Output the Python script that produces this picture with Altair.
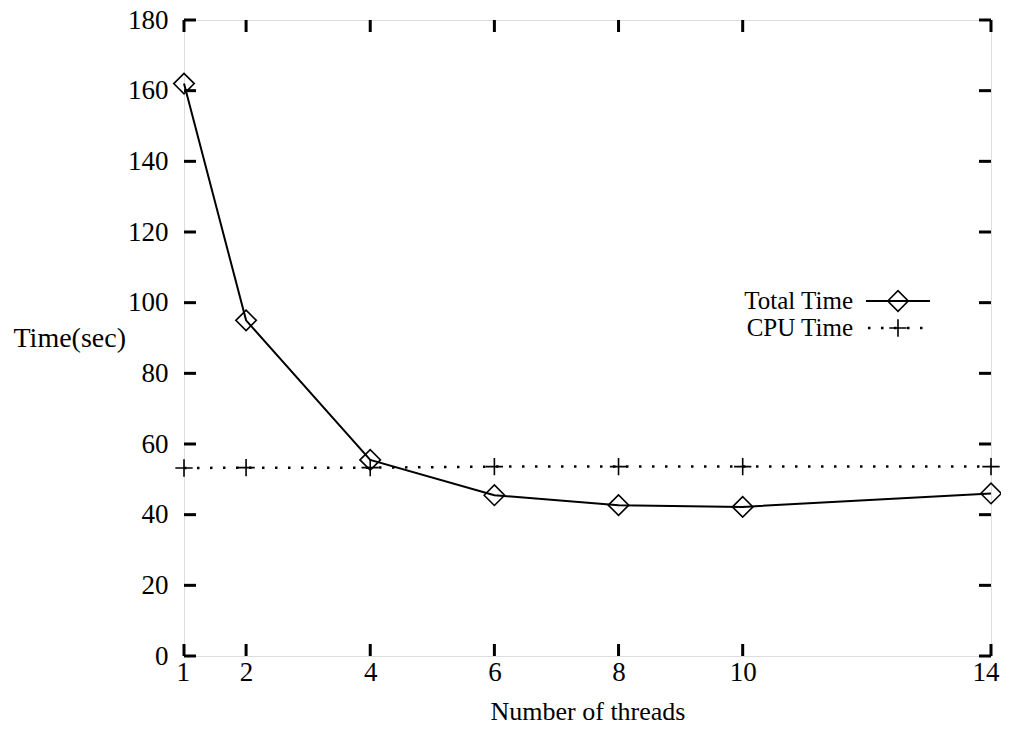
import altair as alt
import pandas as pd

threads = [1, 2, 4, 6, 8, 10, 14]
total_time = [162, 95, 55.5, 45.5, 42.7, 42.2, 46]
cpu_time = [53.2, 53.3, 53.3, 53.6, 53.6, 53.6, 53.6]
y_ticks = [0, 20, 40, 60, 80, 100, 120, 140, 160, 180]
x_ticks = threads

W, H = 807, 636
FONT = "Liberation Serif"
TICK = 12

df = pd.DataFrame({"threads": threads, "total": total_time, "cpu": cpu_time})
ydf = pd.DataFrame({"v": y_ticks})
xdf = pd.DataFrame({"v": x_ticks})

xs = alt.Scale(domain=[1, 14], nice=False, zero=False)
ys = alt.Scale(domain=[0, 180], nice=False)

xaxis = alt.Axis(values=x_ticks, format="d", ticks=False, domain=False, grid=False,
                 labelFlush=True, labelFlushOffset=8,
                 labelFont=FONT, labelFontSize=27, labelColor="black", labelPadding=3,
                 title="Number of threads", titleFont=FONT, titleFontSize=26,
                 titleFontWeight="normal", titleColor="black", titlePadding=13)
yaxis = alt.Axis(values=y_ticks, format="d", ticks=False, domain=False, grid=False,
                 labelFlush=False, labelBound=False,
                 labelFont=FONT, labelFontSize=27, labelColor="black", labelPadding=16,
                 title="Time(sec)", titleFont=FONT, titleFontSize=28,
                 titleFontWeight="normal", titleColor="black", titleAngle=0,
                 titleAlign="left", titleBaseline="middle", titleX=-171, titleY=318)

base = alt.Chart(df)

total_line = base.mark_line(color="black", strokeWidth=2).encode(
    x=alt.X("threads:Q", scale=xs, axis=xaxis),
    y=alt.Y("total:Q", scale=ys, axis=yaxis),
)
total_pts = base.mark_point(shape="diamond", size=420, filled=False, color="black",
                            strokeWidth=1.6, opacity=1).encode(
    x=alt.X("threads:Q", scale=xs), y=alt.Y("total:Q", scale=ys))

cpu_line = base.mark_line(color="black", strokeWidth=2.5, strokeDash=[2.5, 10.5]).encode(
    x=alt.X("threads:Q", scale=xs), y=alt.Y("cpu:Q", scale=ys))
PLUS = "M-1,0H1M0,-1V1"
cpu_pts = base.mark_point(shape=PLUS, size=300, filled=False, color="black",
                          strokeWidth=1.6, opacity=1).encode(
    x=alt.X("threads:Q", scale=xs), y=alt.Y("cpu:Q", scale=ys))

# inward ticks on all four sides
left_ticks = alt.Chart(ydf).mark_rule(color="black", strokeWidth=3).encode(
    y=alt.Y("v:Q", scale=ys), x=alt.value(0), x2=alt.value(TICK))
right_ticks = alt.Chart(ydf).mark_rule(color="black", strokeWidth=3).encode(
    y=alt.Y("v:Q", scale=ys), x=alt.value(W - TICK), x2=alt.value(W))
bottom_ticks = alt.Chart(xdf).mark_rule(color="black", strokeWidth=3).encode(
    x=alt.X("v:Q", scale=xs), y=alt.value(H - TICK), y2=alt.value(H))
top_ticks = alt.Chart(xdf).mark_rule(color="black", strokeWidth=3).encode(
    x=alt.X("v:Q", scale=xs), y=alt.value(0), y2=alt.value(TICK))

# legend
one = alt.Data(values=[{"a": 1}])
LX_TEXT, LX0, LX1, LXM = 669, 682, 746, 714
LY1, LY2 = 281, 308
leg_t1 = alt.Chart(one).mark_text(font=FONT, fontSize=25, align="right",
                                  baseline="middle", color="black").encode(
    x=alt.value(LX_TEXT), y=alt.value(LY1), text=alt.value("Total Time"))
leg_t2 = alt.Chart(one).mark_text(font=FONT, fontSize=25, align="right",
                                  baseline="middle", color="black").encode(
    x=alt.value(LX_TEXT), y=alt.value(LY2), text=alt.value("CPU Time"))
leg_l1 = alt.Chart(one).mark_rule(color="black", strokeWidth=2).encode(
    x=alt.value(LX0), x2=alt.value(LX1), y=alt.value(LY1))
leg_l2 = alt.Chart(one).mark_rule(color="black", strokeWidth=2.5,
                                  strokeDash=[2.5, 10.5]).encode(
    x=alt.value(LX0 + 2), x2=alt.value(LX1), y=alt.value(LY2))
leg_p1 = alt.Chart(one).mark_point(shape="diamond", size=420, filled=False,
                                   color="black", strokeWidth=1.6, opacity=1).encode(
    x=alt.value(LXM), y=alt.value(LY1))
leg_p2 = alt.Chart(one).mark_point(shape=PLUS, size=300, filled=False,
                                   color="black", strokeWidth=1.6, opacity=1).encode(
    x=alt.value(LXM), y=alt.value(LY2))

chart = alt.layer(
    total_line, total_pts, cpu_line, cpu_pts,
    left_ticks, right_ticks, bottom_ticks, top_ticks,
    leg_t1, leg_t2, leg_l1, leg_l2, leg_p1, leg_p2,
).properties(
    width=W, height=H,
    autosize=alt.AutoSizeParams(type="none"),
    padding={"left": 176, "top": 12, "right": 10, "bottom": 71},
).configure_view(stroke="black", strokeWidth=3).configure(background="white")

chart.save("out.html", embed_options={"renderer": "svg", "actions": False})
